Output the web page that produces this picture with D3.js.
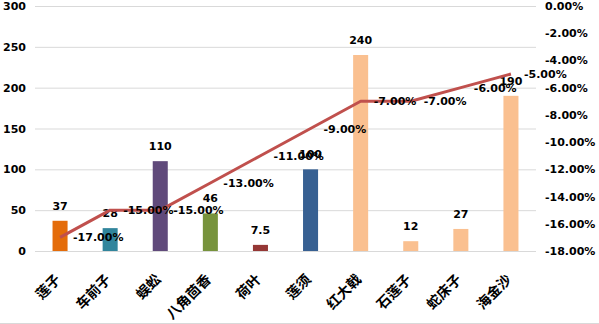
<!DOCTYPE html>
<html><head><meta charset="utf-8">
<script src="https://cdn.jsdelivr.net/npm/d3@7"></script>
<style>body{margin:0;background:#fff}svg{display:block}</style>
</head><body>
<script>
const categories = ["莲子","车前子","蜈蚣","八角茴香","荷叶","莲须","红大戟","石莲子","蛇床子","海金沙"];
const barValues = [37,28,110,46,7.5,100,240,12,27,190];
const barLabels = ["37","28","110","46","7.5","100","240","12","27","190"];
const lineValues = [-0.17,-0.15,-0.15,-0.13,-0.11,-0.09,-0.07,-0.07,-0.06,-0.05];
const barColors = ["#E46C0A","#31859C","#604A7B","#77933C","#953735","#376092","#FAC090","#FAC090","#FAC090","#FAC090"];
const leftTicks = [0,50,100,150,200,250,300];
const rightTicks = [0,-0.02,-0.04,-0.06,-0.08,-0.10,-0.12,-0.14,-0.16,-0.18];

const W=599,H=324;
const L=35,R=536,T=6,B=251;
const svg=d3.select("body").append("svg").attr("width",W).attr("height",H);
const font="'DejaVu Sans', sans-serif";
const pct=d=>d3.format(".2%")(d).replace("−","-");

const x=d3.scaleBand().domain(categories).range([L,R]).paddingInner(0.7).paddingOuter(0.35);
const xc=d=>x(d)+x.bandwidth()/2;
const y=d3.scaleLinear().domain([0,300]).range([B,T]);
const y2=d3.scaleLinear().domain([-0.18,0]).range([B,T]);

// gridlines
svg.append("g").selectAll("line").data(leftTicks).join("line")
 .attr("x1",L).attr("x2",R).attr("y1",d=>y(d)+0.5).attr("y2",d=>y(d)+0.5)
 .attr("stroke","#d9d9d9").attr("stroke-width",1);

// left axis
const la=svg.append("g").attr("transform",`translate(${L},0)`)
 .call(d3.axisLeft(y).tickValues(leftTicks).tickSize(0).tickPadding(9));
la.select(".domain").remove();
la.selectAll("text").attr("font-family",font).attr("font-weight","bold").attr("font-size",11).attr("fill","#000");

// right axis
const ra=svg.append("g").attr("transform",`translate(${R},0)`)
 .call(d3.axisRight(y2).tickValues(rightTicks).tickSize(0).tickPadding(9).tickFormat(pct));
ra.select(".domain").remove();
ra.selectAll("text").attr("font-family",font).attr("font-weight","bold").attr("font-size",11).attr("fill","#000");

// bars
svg.append("g").selectAll("rect").data(categories).join("rect")
 .attr("x",d=>x(d)).attr("width",x.bandwidth())
 .attr("y",(d,i)=>y(barValues[i])).attr("height",(d,i)=>B-y(barValues[i]))
 .attr("fill",(d,i)=>barColors[i]);

// bar labels
svg.append("g").selectAll("text").data(categories).join("text")
 .attr("x",d=>xc(d)).attr("y",(d,i)=>y(barValues[i])-11)
 .attr("text-anchor","middle").attr("font-family",font).attr("font-weight","bold").attr("font-size",11)
 .text((d,i)=>barLabels[i]);

// line
const line=d3.line().x((d,i)=>xc(categories[i])).y(d=>y2(d));
svg.append("path").datum(lineValues).attr("d",line).attr("fill","none")
 .attr("stroke","#C0504D").attr("stroke-width",3).attr("stroke-linejoin","round");

// line labels
svg.append("g").selectAll("text").data(lineValues).join("text")
 .attr("x",(d,i)=>xc(categories[i])+13).attr("y",d=>y2(d)+4)
 .attr("font-family",font).attr("font-weight","bold").attr("font-size",11)
 .text(d=>pct(d));

// category labels
svg.append("g").selectAll("text").data(categories).join("text")
 .attr("transform",d=>`translate(${xc(d)-2},${B+26}) rotate(-45)`)
 .attr("text-anchor","end").attr("dy","0.35em")
 .attr("font-family","'Noto Sans CJK SC', sans-serif").attr("font-weight","bold").attr("font-size",14)
 .text(d=>d);

// bottom border
svg.append("line").attr("x1",0).attr("x2",W).attr("y1",323.5).attr("y2",323.5).attr("stroke","#d9d9d9");
</script>
</body></html>
